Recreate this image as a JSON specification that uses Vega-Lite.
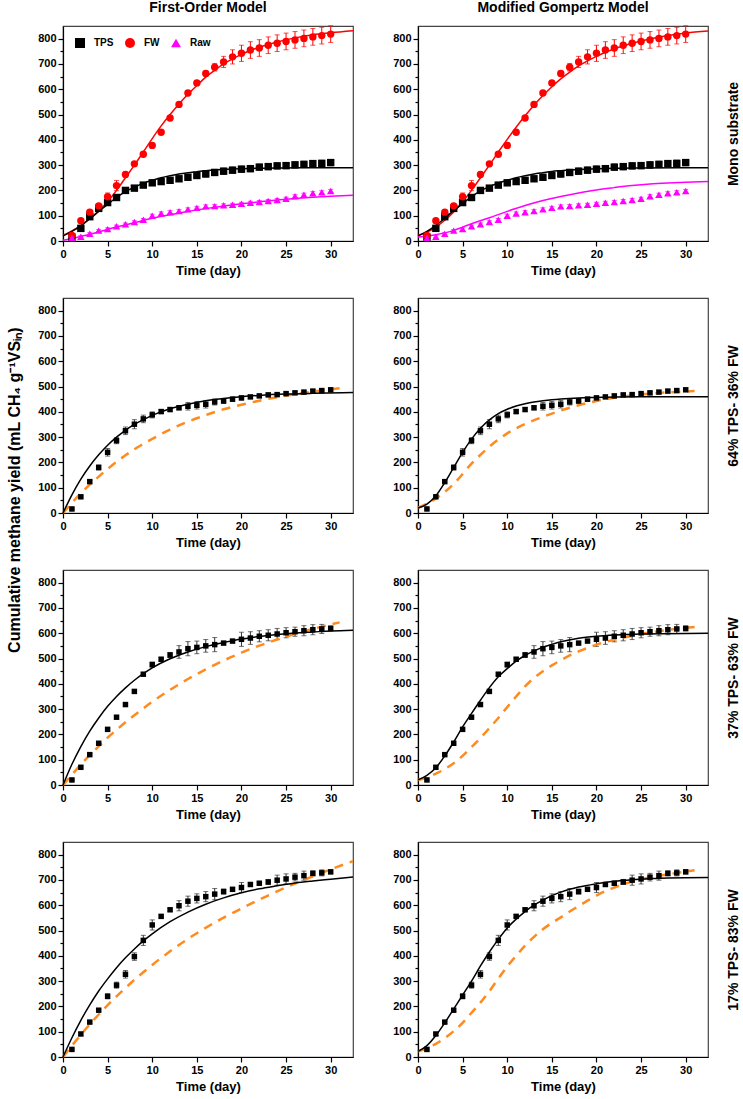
{
"$schema": "https://vega.github.io/schema/vega-lite/v6.json",
"background": "white",
"padding": {"left": 7, "top": 0, "right": 0, "bottom": 2},
"config": {
  "font": "Liberation Sans",
  "view": {"stroke": "#444", "strokeWidth": 1.2},
  "axis": {"labelFont": "Liberation Sans", "labelFontWeight": "bold", "labelFontSize": 11, "labelColor": "#000", "titleFont": "Liberation Sans", "titleFontWeight": "bold", "titleFontSize": 13, "titleColor": "#000", "domainColor": "#000", "tickColor": "#000", "grid": false, "domainWidth": 1.2, "tickWidth": 1.2}
},
"title": {"text": "Cumulative methane yield (mL CH₄ g⁻¹VSᵢₙ)", "orient": "left", "anchor": "middle", "font": "Liberation Sans", "fontSize": 16, "fontWeight": "bold", "color": "#000", "offset": 14, "dx": 57},
"datasets": {
"obs": [
{"mix":"Mono","series":"TPS","day":1,"y":15,"err":3},{"mix":"Mono","series":"TPS","day":2,"y":50,"err":5},{"mix":"Mono","series":"TPS","day":3,"y":96,"err":6},{"mix":"Mono","series":"TPS","day":4,"y":129,"err":8},{"mix":"Mono","series":"TPS","day":5,"y":152,"err":6},{"mix":"Mono","series":"TPS","day":6,"y":172,"err":6},{"mix":"Mono","series":"TPS","day":7,"y":200,"err":6},{"mix":"Mono","series":"TPS","day":8,"y":209,"err":6},{"mix":"Mono","series":"TPS","day":9,"y":221,"err":6},{"mix":"Mono","series":"TPS","day":10,"y":230,"err":6},{"mix":"Mono","series":"TPS","day":11,"y":235,"err":8},{"mix":"Mono","series":"TPS","day":12,"y":240,"err":8},{"mix":"Mono","series":"TPS","day":13,"y":246,"err":10},{"mix":"Mono","series":"TPS","day":14,"y":252,"err":10},{"mix":"Mono","series":"TPS","day":15,"y":259,"err":12},{"mix":"Mono","series":"TPS","day":16,"y":265,"err":12},{"mix":"Mono","series":"TPS","day":17,"y":271,"err":12},{"mix":"Mono","series":"TPS","day":18,"y":276,"err":12},{"mix":"Mono","series":"TPS","day":19,"y":280,"err":12},{"mix":"Mono","series":"TPS","day":20,"y":284,"err":12},{"mix":"Mono","series":"TPS","day":21,"y":286,"err":12},{"mix":"Mono","series":"TPS","day":22,"y":292,"err":12},{"mix":"Mono","series":"TPS","day":23,"y":294,"err":12},{"mix":"Mono","series":"TPS","day":24,"y":297,"err":12},{"mix":"Mono","series":"TPS","day":25,"y":298,"err":12},{"mix":"Mono","series":"TPS","day":26,"y":301,"err":12},{"mix":"Mono","series":"TPS","day":27,"y":303,"err":12},{"mix":"Mono","series":"TPS","day":28,"y":306,"err":12},{"mix":"Mono","series":"TPS","day":29,"y":307,"err":12},{"mix":"Mono","series":"TPS","day":30,"y":310,"err":12},
{"mix":"Mono","series":"FW","day":1,"y":22,"err":5},{"mix":"Mono","series":"FW","day":2,"y":80,"err":5},{"mix":"Mono","series":"FW","day":3,"y":114,"err":8},{"mix":"Mono","series":"FW","day":4,"y":139,"err":8},{"mix":"Mono","series":"FW","day":5,"y":175,"err":15},{"mix":"Mono","series":"FW","day":6,"y":219,"err":20},{"mix":"Mono","series":"FW","day":7,"y":263,"err":10},{"mix":"Mono","series":"FW","day":8,"y":305,"err":8},{"mix":"Mono","series":"FW","day":9,"y":343,"err":8},{"mix":"Mono","series":"FW","day":10,"y":378,"err":6},{"mix":"Mono","series":"FW","day":11,"y":430,"err":6},{"mix":"Mono","series":"FW","day":12,"y":486,"err":6},{"mix":"Mono","series":"FW","day":13,"y":540,"err":6},{"mix":"Mono","series":"FW","day":14,"y":585,"err":6},{"mix":"Mono","series":"FW","day":15,"y":625,"err":6},{"mix":"Mono","series":"FW","day":16,"y":662,"err":10},{"mix":"Mono","series":"FW","day":17,"y":687,"err":15},{"mix":"Mono","series":"FW","day":18,"y":708,"err":22},{"mix":"Mono","series":"FW","day":19,"y":728,"err":28},{"mix":"Mono","series":"FW","day":20,"y":742,"err":32},{"mix":"Mono","series":"FW","day":21,"y":755,"err":33},{"mix":"Mono","series":"FW","day":22,"y":763,"err":33},{"mix":"Mono","series":"FW","day":23,"y":774,"err":33},{"mix":"Mono","series":"FW","day":24,"y":782,"err":33},{"mix":"Mono","series":"FW","day":25,"y":789,"err":33},{"mix":"Mono","series":"FW","day":26,"y":795,"err":33},{"mix":"Mono","series":"FW","day":27,"y":801,"err":33},{"mix":"Mono","series":"FW","day":28,"y":807,"err":33},{"mix":"Mono","series":"FW","day":29,"y":812,"err":33},{"mix":"Mono","series":"FW","day":30,"y":818,"err":33},
{"mix":"Mono","series":"Raw","day":1,"y":13,"err":3},{"mix":"Mono","series":"Raw","day":2,"y":17,"err":4},{"mix":"Mono","series":"Raw","day":3,"y":29,"err":4},{"mix":"Mono","series":"Raw","day":4,"y":41,"err":4},{"mix":"Mono","series":"Raw","day":5,"y":47,"err":5},{"mix":"Mono","series":"Raw","day":6,"y":58,"err":5},{"mix":"Mono","series":"Raw","day":7,"y":66,"err":5},{"mix":"Mono","series":"Raw","day":8,"y":75,"err":5},{"mix":"Mono","series":"Raw","day":9,"y":84,"err":5},{"mix":"Mono","series":"Raw","day":10,"y":100,"err":6},{"mix":"Mono","series":"Raw","day":11,"y":109,"err":6},{"mix":"Mono","series":"Raw","day":12,"y":114,"err":6},{"mix":"Mono","series":"Raw","day":13,"y":118,"err":6},{"mix":"Mono","series":"Raw","day":14,"y":125,"err":6},{"mix":"Mono","series":"Raw","day":15,"y":131,"err":6},{"mix":"Mono","series":"Raw","day":16,"y":137,"err":6},{"mix":"Mono","series":"Raw","day":17,"y":138,"err":6},{"mix":"Mono","series":"Raw","day":18,"y":141,"err":6},{"mix":"Mono","series":"Raw","day":19,"y":143,"err":6},{"mix":"Mono","series":"Raw","day":20,"y":147,"err":6},{"mix":"Mono","series":"Raw","day":21,"y":151,"err":6},{"mix":"Mono","series":"Raw","day":22,"y":154,"err":6},{"mix":"Mono","series":"Raw","day":23,"y":158,"err":6},{"mix":"Mono","series":"Raw","day":24,"y":162,"err":6},{"mix":"Mono","series":"Raw","day":25,"y":167,"err":6},{"mix":"Mono","series":"Raw","day":26,"y":177,"err":6},{"mix":"Mono","series":"Raw","day":27,"y":183,"err":6},{"mix":"Mono","series":"Raw","day":28,"y":189,"err":6},{"mix":"Mono","series":"Raw","day":29,"y":193,"err":6},{"mix":"Mono","series":"Raw","day":30,"y":198,"err":6},
{"mix":"A","series":"TPS","day":1,"y":16,"err":3},{"mix":"A","series":"TPS","day":2,"y":64,"err":4},{"mix":"A","series":"TPS","day":3,"y":124,"err":5},{"mix":"A","series":"TPS","day":4,"y":180,"err":10},{"mix":"A","series":"TPS","day":5,"y":240,"err":15},{"mix":"A","series":"TPS","day":6,"y":286,"err":12},{"mix":"A","series":"TPS","day":7,"y":325,"err":15},{"mix":"A","series":"TPS","day":8,"y":351,"err":18},{"mix":"A","series":"TPS","day":9,"y":372,"err":15},{"mix":"A","series":"TPS","day":10,"y":388,"err":12},{"mix":"A","series":"TPS","day":11,"y":401,"err":8},{"mix":"A","series":"TPS","day":12,"y":409,"err":8},{"mix":"A","series":"TPS","day":13,"y":416,"err":8},{"mix":"A","series":"TPS","day":14,"y":422,"err":15},{"mix":"A","series":"TPS","day":15,"y":426,"err":15},{"mix":"A","series":"TPS","day":16,"y":430,"err":15},{"mix":"A","series":"TPS","day":17,"y":439,"err":12},{"mix":"A","series":"TPS","day":18,"y":443,"err":10},{"mix":"A","series":"TPS","day":19,"y":450,"err":8},{"mix":"A","series":"TPS","day":20,"y":455,"err":8},{"mix":"A","series":"TPS","day":21,"y":459,"err":6},{"mix":"A","series":"TPS","day":22,"y":463,"err":6},{"mix":"A","series":"TPS","day":23,"y":467,"err":6},{"mix":"A","series":"TPS","day":24,"y":468,"err":6},{"mix":"A","series":"TPS","day":25,"y":472,"err":6},{"mix":"A","series":"TPS","day":26,"y":475,"err":6},{"mix":"A","series":"TPS","day":27,"y":478,"err":6},{"mix":"A","series":"TPS","day":28,"y":482,"err":6},{"mix":"A","series":"TPS","day":29,"y":484,"err":6},{"mix":"A","series":"TPS","day":30,"y":487,"err":6},
{"mix":"B","series":"TPS","day":1,"y":20,"err":3},{"mix":"B","series":"TPS","day":2,"y":70,"err":4},{"mix":"B","series":"TPS","day":3,"y":120,"err":4},{"mix":"B","series":"TPS","day":4,"y":165,"err":4},{"mix":"B","series":"TPS","day":5,"y":220,"err":4},{"mix":"B","series":"TPS","day":6,"y":268,"err":4},{"mix":"B","series":"TPS","day":7,"y":318,"err":4},{"mix":"B","series":"TPS","day":8,"y":370,"err":4},{"mix":"B","series":"TPS","day":9,"y":438,"err":5},{"mix":"B","series":"TPS","day":10,"y":476,"err":10},{"mix":"B","series":"TPS","day":11,"y":497,"err":8},{"mix":"B","series":"TPS","day":12,"y":514,"err":10},{"mix":"B","series":"TPS","day":13,"y":526,"err":25},{"mix":"B","series":"TPS","day":14,"y":539,"err":28},{"mix":"B","series":"TPS","day":15,"y":544,"err":25},{"mix":"B","series":"TPS","day":16,"y":550,"err":25},{"mix":"B","series":"TPS","day":17,"y":555,"err":28},{"mix":"B","series":"TPS","day":18,"y":561,"err":6},{"mix":"B","series":"TPS","day":19,"y":569,"err":6},{"mix":"B","series":"TPS","day":20,"y":576,"err":28},{"mix":"B","series":"TPS","day":21,"y":581,"err":25},{"mix":"B","series":"TPS","day":22,"y":588,"err":22},{"mix":"B","series":"TPS","day":23,"y":592,"err":22},{"mix":"B","series":"TPS","day":24,"y":597,"err":22},{"mix":"B","series":"TPS","day":25,"y":602,"err":20},{"mix":"B","series":"TPS","day":26,"y":606,"err":18},{"mix":"B","series":"TPS","day":27,"y":610,"err":20},{"mix":"B","series":"TPS","day":28,"y":614,"err":20},{"mix":"B","series":"TPS","day":29,"y":617,"err":18},{"mix":"B","series":"TPS","day":30,"y":619,"err":10},
{"mix":"C","series":"TPS","day":1,"y":30,"err":3},{"mix":"C","series":"TPS","day":2,"y":91,"err":6},{"mix":"C","series":"TPS","day":3,"y":138,"err":5},{"mix":"C","series":"TPS","day":4,"y":185,"err":5},{"mix":"C","series":"TPS","day":5,"y":240,"err":10},{"mix":"C","series":"TPS","day":6,"y":284,"err":12},{"mix":"C","series":"TPS","day":7,"y":327,"err":15},{"mix":"C","series":"TPS","day":8,"y":397,"err":15},{"mix":"C","series":"TPS","day":9,"y":461,"err":20},{"mix":"C","series":"TPS","day":10,"y":522,"err":20},{"mix":"C","series":"TPS","day":11,"y":556,"err":6},{"mix":"C","series":"TPS","day":12,"y":582,"err":6},{"mix":"C","series":"TPS","day":13,"y":598,"err":20},{"mix":"C","series":"TPS","day":14,"y":616,"err":20},{"mix":"C","series":"TPS","day":15,"y":627,"err":18},{"mix":"C","series":"TPS","day":16,"y":634,"err":20},{"mix":"C","series":"TPS","day":17,"y":644,"err":22},{"mix":"C","series":"TPS","day":18,"y":654,"err":10},{"mix":"C","series":"TPS","day":19,"y":663,"err":6},{"mix":"C","series":"TPS","day":20,"y":670,"err":20},{"mix":"C","series":"TPS","day":21,"y":682,"err":6},{"mix":"C","series":"TPS","day":22,"y":687,"err":6},{"mix":"C","series":"TPS","day":23,"y":692,"err":10},{"mix":"C","series":"TPS","day":24,"y":699,"err":20},{"mix":"C","series":"TPS","day":25,"y":704,"err":20},{"mix":"C","series":"TPS","day":26,"y":711,"err":15},{"mix":"C","series":"TPS","day":27,"y":717,"err":18},{"mix":"C","series":"TPS","day":28,"y":726,"err":10},{"mix":"C","series":"TPS","day":29,"y":728,"err":12},{"mix":"C","series":"TPS","day":30,"y":732,"err":8}
],
"fit": [
{"panel":"M-FO","curve":"FW","day":0,"y":22},{"panel":"M-FO","curve":"FW","day":1,"y":40},{"panel":"M-FO","curve":"FW","day":2,"y":62},{"panel":"M-FO","curve":"FW","day":3,"y":88},{"panel":"M-FO","curve":"FW","day":4,"y":118},{"panel":"M-FO","curve":"FW","day":5,"y":155},{"panel":"M-FO","curve":"FW","day":6,"y":200},{"panel":"M-FO","curve":"FW","day":7,"y":250},{"panel":"M-FO","curve":"FW","day":8,"y":300},{"panel":"M-FO","curve":"FW","day":9,"y":352},{"panel":"M-FO","curve":"FW","day":10,"y":405},{"panel":"M-FO","curve":"FW","day":11,"y":455},{"panel":"M-FO","curve":"FW","day":12,"y":500},{"panel":"M-FO","curve":"FW","day":13,"y":542},{"panel":"M-FO","curve":"FW","day":14,"y":580},{"panel":"M-FO","curve":"FW","day":15,"y":615},{"panel":"M-FO","curve":"FW","day":16,"y":648},{"panel":"M-FO","curve":"FW","day":17,"y":675},{"panel":"M-FO","curve":"FW","day":18,"y":700},{"panel":"M-FO","curve":"FW","day":19,"y":720},{"panel":"M-FO","curve":"FW","day":20,"y":738},{"panel":"M-FO","curve":"FW","day":22,"y":766},{"panel":"M-FO","curve":"FW","day":24,"y":787},{"panel":"M-FO","curve":"FW","day":26,"y":803},{"panel":"M-FO","curve":"FW","day":28,"y":815},{"panel":"M-FO","curve":"FW","day":30,"y":823},{"panel":"M-FO","curve":"FW","day":32.5,"y":831},
{"panel":"M-FO","curve":"TPS","day":0,"y":20},{"panel":"M-FO","curve":"TPS","day":1,"y":38},{"panel":"M-FO","curve":"TPS","day":2,"y":60},{"panel":"M-FO","curve":"TPS","day":3,"y":88},{"panel":"M-FO","curve":"TPS","day":4,"y":117},{"panel":"M-FO","curve":"TPS","day":5,"y":145},{"panel":"M-FO","curve":"TPS","day":6,"y":172},{"panel":"M-FO","curve":"TPS","day":7,"y":195},{"panel":"M-FO","curve":"TPS","day":8,"y":213},{"panel":"M-FO","curve":"TPS","day":9,"y":228},{"panel":"M-FO","curve":"TPS","day":10,"y":240},{"panel":"M-FO","curve":"TPS","day":11,"y":250},{"panel":"M-FO","curve":"TPS","day":12,"y":258},{"panel":"M-FO","curve":"TPS","day":13,"y":265},{"panel":"M-FO","curve":"TPS","day":14,"y":270},{"panel":"M-FO","curve":"TPS","day":15,"y":274},{"panel":"M-FO","curve":"TPS","day":16,"y":278},{"panel":"M-FO","curve":"TPS","day":17,"y":281},{"panel":"M-FO","curve":"TPS","day":18,"y":283},{"panel":"M-FO","curve":"TPS","day":20,"y":286},{"panel":"M-FO","curve":"TPS","day":22,"y":288},{"panel":"M-FO","curve":"TPS","day":25,"y":289},{"panel":"M-FO","curve":"TPS","day":28,"y":290},{"panel":"M-FO","curve":"TPS","day":32.5,"y":290},
{"panel":"M-FO","curve":"Raw","day":0,"y":3},{"panel":"M-FO","curve":"Raw","day":2,"y":18},{"panel":"M-FO","curve":"Raw","day":4,"y":36},{"panel":"M-FO","curve":"Raw","day":6,"y":55},{"panel":"M-FO","curve":"Raw","day":8,"y":72},{"panel":"M-FO","curve":"Raw","day":10,"y":90},{"panel":"M-FO","curve":"Raw","day":12,"y":104},{"panel":"M-FO","curve":"Raw","day":14,"y":117},{"panel":"M-FO","curve":"Raw","day":16,"y":128},{"panel":"M-FO","curve":"Raw","day":18,"y":138},{"panel":"M-FO","curve":"Raw","day":20,"y":147},{"panel":"M-FO","curve":"Raw","day":22,"y":155},{"panel":"M-FO","curve":"Raw","day":24,"y":162},{"panel":"M-FO","curve":"Raw","day":26,"y":168},{"panel":"M-FO","curve":"Raw","day":28,"y":173},{"panel":"M-FO","curve":"Raw","day":30,"y":177},{"panel":"M-FO","curve":"Raw","day":32.5,"y":181},
{"panel":"M-GO","curve":"FW","day":0,"y":22},{"panel":"M-GO","curve":"FW","day":1,"y":35},{"panel":"M-GO","curve":"FW","day":2,"y":55},{"panel":"M-GO","curve":"FW","day":3,"y":82},{"panel":"M-GO","curve":"FW","day":4,"y":115},{"panel":"M-GO","curve":"FW","day":5,"y":155},{"panel":"M-GO","curve":"FW","day":6,"y":200},{"panel":"M-GO","curve":"FW","day":7,"y":250},{"panel":"M-GO","curve":"FW","day":8,"y":300},{"panel":"M-GO","curve":"FW","day":9,"y":352},{"panel":"M-GO","curve":"FW","day":10,"y":402},{"panel":"M-GO","curve":"FW","day":11,"y":450},{"panel":"M-GO","curve":"FW","day":12,"y":495},{"panel":"M-GO","curve":"FW","day":13,"y":537},{"panel":"M-GO","curve":"FW","day":14,"y":575},{"panel":"M-GO","curve":"FW","day":15,"y":610},{"panel":"M-GO","curve":"FW","day":16,"y":641},{"panel":"M-GO","curve":"FW","day":17,"y":668},{"panel":"M-GO","curve":"FW","day":18,"y":692},{"panel":"M-GO","curve":"FW","day":19,"y":712},{"panel":"M-GO","curve":"FW","day":20,"y":730},{"panel":"M-GO","curve":"FW","day":22,"y":760},{"panel":"M-GO","curve":"FW","day":24,"y":782},{"panel":"M-GO","curve":"FW","day":26,"y":799},{"panel":"M-GO","curve":"FW","day":28,"y":812},{"panel":"M-GO","curve":"FW","day":30,"y":822},{"panel":"M-GO","curve":"FW","day":32.5,"y":830},
{"panel":"M-GO","curve":"TPS","day":0,"y":20},{"panel":"M-GO","curve":"TPS","day":1,"y":38},{"panel":"M-GO","curve":"TPS","day":2,"y":62},{"panel":"M-GO","curve":"TPS","day":3,"y":90},{"panel":"M-GO","curve":"TPS","day":4,"y":120},{"panel":"M-GO","curve":"TPS","day":5,"y":148},{"panel":"M-GO","curve":"TPS","day":6,"y":175},{"panel":"M-GO","curve":"TPS","day":7,"y":198},{"panel":"M-GO","curve":"TPS","day":8,"y":215},{"panel":"M-GO","curve":"TPS","day":9,"y":229},{"panel":"M-GO","curve":"TPS","day":10,"y":240},{"panel":"M-GO","curve":"TPS","day":11,"y":250},{"panel":"M-GO","curve":"TPS","day":12,"y":258},{"panel":"M-GO","curve":"TPS","day":13,"y":265},{"panel":"M-GO","curve":"TPS","day":14,"y":270},{"panel":"M-GO","curve":"TPS","day":15,"y":275},{"panel":"M-GO","curve":"TPS","day":16,"y":278},{"panel":"M-GO","curve":"TPS","day":18,"y":283},{"panel":"M-GO","curve":"TPS","day":20,"y":286},{"panel":"M-GO","curve":"TPS","day":22,"y":288},{"panel":"M-GO","curve":"TPS","day":25,"y":289},{"panel":"M-GO","curve":"TPS","day":32.5,"y":290},
{"panel":"M-GO","curve":"Raw","day":0,"y":16},{"panel":"M-GO","curve":"Raw","day":2,"y":25},{"panel":"M-GO","curve":"Raw","day":4,"y":42},{"panel":"M-GO","curve":"Raw","day":5,"y":55},{"panel":"M-GO","curve":"Raw","day":6,"y":68},{"panel":"M-GO","curve":"Raw","day":8,"y":92},{"panel":"M-GO","curve":"Raw","day":10,"y":117},{"panel":"M-GO","curve":"Raw","day":12,"y":140},{"panel":"M-GO","curve":"Raw","day":14,"y":160},{"panel":"M-GO","curve":"Raw","day":16,"y":176},{"panel":"M-GO","curve":"Raw","day":18,"y":190},{"panel":"M-GO","curve":"Raw","day":20,"y":202},{"panel":"M-GO","curve":"Raw","day":22,"y":211},{"panel":"M-GO","curve":"Raw","day":24,"y":219},{"panel":"M-GO","curve":"Raw","day":26,"y":225},{"panel":"M-GO","curve":"Raw","day":28,"y":229},{"panel":"M-GO","curve":"Raw","day":30,"y":232},{"panel":"M-GO","curve":"Raw","day":32.5,"y":235},
{"panel":"A-FO","curve":"fit","day":0,"y":0},{"panel":"A-FO","curve":"fit","day":1,"y":72},{"panel":"A-FO","curve":"fit","day":2,"y":134},{"panel":"A-FO","curve":"fit","day":3,"y":186},{"panel":"A-FO","curve":"fit","day":4,"y":230},{"panel":"A-FO","curve":"fit","day":5,"y":268},{"panel":"A-FO","curve":"fit","day":6,"y":300},{"panel":"A-FO","curve":"fit","day":7,"y":327},{"panel":"A-FO","curve":"fit","day":8,"y":350},{"panel":"A-FO","curve":"fit","day":9,"y":369},{"panel":"A-FO","curve":"fit","day":10,"y":386},{"panel":"A-FO","curve":"fit","day":12,"y":412},{"panel":"A-FO","curve":"fit","day":14,"y":430},{"panel":"A-FO","curve":"fit","day":16,"y":444},{"panel":"A-FO","curve":"fit","day":18,"y":453},{"panel":"A-FO","curve":"fit","day":20,"y":460},{"panel":"A-FO","curve":"fit","day":22,"y":465},{"panel":"A-FO","curve":"fit","day":25,"y":470},{"panel":"A-FO","curve":"fit","day":28,"y":473},{"panel":"A-FO","curve":"fit","day":32.5,"y":476},
{"panel":"A-FO","curve":"pred","day":0,"y":0},{"panel":"A-FO","curve":"pred","day":1,"y":40},{"panel":"A-FO","curve":"pred","day":2,"y":78},{"panel":"A-FO","curve":"pred","day":3,"y":112},{"panel":"A-FO","curve":"pred","day":4,"y":144},{"panel":"A-FO","curve":"pred","day":5,"y":174},{"panel":"A-FO","curve":"pred","day":6,"y":202},{"panel":"A-FO","curve":"pred","day":7,"y":228},{"panel":"A-FO","curve":"pred","day":8,"y":252},{"panel":"A-FO","curve":"pred","day":9,"y":273},{"panel":"A-FO","curve":"pred","day":10,"y":293},{"panel":"A-FO","curve":"pred","day":12,"y":330},{"panel":"A-FO","curve":"pred","day":14,"y":361},{"panel":"A-FO","curve":"pred","day":16,"y":387},{"panel":"A-FO","curve":"pred","day":18,"y":410},{"panel":"A-FO","curve":"pred","day":20,"y":428},{"panel":"A-FO","curve":"pred","day":22,"y":444},{"panel":"A-FO","curve":"pred","day":24,"y":458},{"panel":"A-FO","curve":"pred","day":26,"y":470},{"panel":"A-FO","curve":"pred","day":28,"y":480},{"panel":"A-FO","curve":"pred","day":30,"y":489},{"panel":"A-FO","curve":"pred","day":31,"y":493},
{"panel":"A-GO","curve":"fit","day":0,"y":20},{"panel":"A-GO","curve":"fit","day":1,"y":35},{"panel":"A-GO","curve":"fit","day":2,"y":68},{"panel":"A-GO","curve":"fit","day":3,"y":120},{"panel":"A-GO","curve":"fit","day":4,"y":180},{"panel":"A-GO","curve":"fit","day":5,"y":240},{"panel":"A-GO","curve":"fit","day":6,"y":292},{"panel":"A-GO","curve":"fit","day":7,"y":335},{"panel":"A-GO","curve":"fit","day":8,"y":368},{"panel":"A-GO","curve":"fit","day":9,"y":393},{"panel":"A-GO","curve":"fit","day":10,"y":410},{"panel":"A-GO","curve":"fit","day":11,"y":423},{"panel":"A-GO","curve":"fit","day":12,"y":432},{"panel":"A-GO","curve":"fit","day":13,"y":439},{"panel":"A-GO","curve":"fit","day":14,"y":444},{"panel":"A-GO","curve":"fit","day":15,"y":448},{"panel":"A-GO","curve":"fit","day":16,"y":451},{"panel":"A-GO","curve":"fit","day":18,"y":455},{"panel":"A-GO","curve":"fit","day":20,"y":457},{"panel":"A-GO","curve":"fit","day":22,"y":459},{"panel":"A-GO","curve":"fit","day":25,"y":460},{"panel":"A-GO","curve":"fit","day":32.5,"y":460},
{"panel":"A-GO","curve":"pred","day":0,"y":20},{"panel":"A-GO","curve":"pred","day":2,"y":57},{"panel":"A-GO","curve":"pred","day":4,"y":115},{"panel":"A-GO","curve":"pred","day":6,"y":195},{"panel":"A-GO","curve":"pred","day":8,"y":262},{"panel":"A-GO","curve":"pred","day":10,"y":315},{"panel":"A-GO","curve":"pred","day":12,"y":352},{"panel":"A-GO","curve":"pred","day":14,"y":380},{"panel":"A-GO","curve":"pred","day":16,"y":405},{"panel":"A-GO","curve":"pred","day":18,"y":426},{"panel":"A-GO","curve":"pred","day":20,"y":443},{"panel":"A-GO","curve":"pred","day":22,"y":456},{"panel":"A-GO","curve":"pred","day":24,"y":465},{"panel":"A-GO","curve":"pred","day":26,"y":472},{"panel":"A-GO","curve":"pred","day":28,"y":477},{"panel":"A-GO","curve":"pred","day":31,"y":482},
{"panel":"B-FO","curve":"fit","day":0,"y":0},{"panel":"B-FO","curve":"fit","day":1,"y":82},{"panel":"B-FO","curve":"fit","day":2,"y":152},{"panel":"B-FO","curve":"fit","day":3,"y":213},{"panel":"B-FO","curve":"fit","day":4,"y":265},{"panel":"B-FO","curve":"fit","day":5,"y":311},{"panel":"B-FO","curve":"fit","day":6,"y":350},{"panel":"B-FO","curve":"fit","day":7,"y":384},{"panel":"B-FO","curve":"fit","day":8,"y":414},{"panel":"B-FO","curve":"fit","day":9,"y":440},{"panel":"B-FO","curve":"fit","day":10,"y":463},{"panel":"B-FO","curve":"fit","day":12,"y":499},{"panel":"B-FO","curve":"fit","day":14,"y":526},{"panel":"B-FO","curve":"fit","day":16,"y":547},{"panel":"B-FO","curve":"fit","day":18,"y":563},{"panel":"B-FO","curve":"fit","day":20,"y":577},{"panel":"B-FO","curve":"fit","day":22,"y":587},{"panel":"B-FO","curve":"fit","day":24,"y":595},{"panel":"B-FO","curve":"fit","day":26,"y":601},{"panel":"B-FO","curve":"fit","day":28,"y":605},{"panel":"B-FO","curve":"fit","day":30,"y":609},{"panel":"B-FO","curve":"fit","day":32.5,"y":612},
{"panel":"B-FO","curve":"pred","day":0,"y":0},{"panel":"B-FO","curve":"pred","day":1,"y":41},{"panel":"B-FO","curve":"pred","day":2,"y":81},{"panel":"B-FO","curve":"pred","day":3,"y":118},{"panel":"B-FO","curve":"pred","day":4,"y":153},{"panel":"B-FO","curve":"pred","day":5,"y":187},{"panel":"B-FO","curve":"pred","day":6,"y":218},{"panel":"B-FO","curve":"pred","day":7,"y":248},{"panel":"B-FO","curve":"pred","day":8,"y":276},{"panel":"B-FO","curve":"pred","day":9,"y":303},{"panel":"B-FO","curve":"pred","day":10,"y":329},{"panel":"B-FO","curve":"pred","day":12,"y":376},{"panel":"B-FO","curve":"pred","day":14,"y":419},{"panel":"B-FO","curve":"pred","day":16,"y":457},{"panel":"B-FO","curve":"pred","day":18,"y":492},{"panel":"B-FO","curve":"pred","day":20,"y":523},{"panel":"B-FO","curve":"pred","day":22,"y":551},{"panel":"B-FO","curve":"pred","day":24,"y":575},{"panel":"B-FO","curve":"pred","day":26,"y":598},{"panel":"B-FO","curve":"pred","day":28,"y":617},{"panel":"B-FO","curve":"pred","day":30,"y":635},{"panel":"B-FO","curve":"pred","day":31,"y":643},
{"panel":"B-GO","curve":"fit","day":0,"y":20},{"panel":"B-GO","curve":"fit","day":1,"y":38},{"panel":"B-GO","curve":"fit","day":2,"y":68},{"panel":"B-GO","curve":"fit","day":3,"y":115},{"panel":"B-GO","curve":"fit","day":4,"y":170},{"panel":"B-GO","curve":"fit","day":5,"y":230},{"panel":"B-GO","curve":"fit","day":6,"y":283},{"panel":"B-GO","curve":"fit","day":7,"y":335},{"panel":"B-GO","curve":"fit","day":8,"y":385},{"panel":"B-GO","curve":"fit","day":9,"y":428},{"panel":"B-GO","curve":"fit","day":10,"y":460},{"panel":"B-GO","curve":"fit","day":11,"y":490},{"panel":"B-GO","curve":"fit","day":12,"y":512},{"panel":"B-GO","curve":"fit","day":13,"y":530},{"panel":"B-GO","curve":"fit","day":14,"y":545},{"panel":"B-GO","curve":"fit","day":15,"y":556},{"panel":"B-GO","curve":"fit","day":16,"y":566},{"panel":"B-GO","curve":"fit","day":18,"y":580},{"panel":"B-GO","curve":"fit","day":20,"y":588},{"panel":"B-GO","curve":"fit","day":22,"y":593},{"panel":"B-GO","curve":"fit","day":25,"y":597},{"panel":"B-GO","curve":"fit","day":32.5,"y":600},
{"panel":"B-GO","curve":"pred","day":0,"y":20},{"panel":"B-GO","curve":"pred","day":1,"y":30},{"panel":"B-GO","curve":"pred","day":2,"y":45},{"panel":"B-GO","curve":"pred","day":3,"y":63},{"panel":"B-GO","curve":"pred","day":4,"y":86},{"panel":"B-GO","curve":"pred","day":5,"y":115},{"panel":"B-GO","curve":"pred","day":6,"y":150},{"panel":"B-GO","curve":"pred","day":7,"y":186},{"panel":"B-GO","curve":"pred","day":8,"y":225},{"panel":"B-GO","curve":"pred","day":9,"y":265},{"panel":"B-GO","curve":"pred","day":10,"y":308},{"panel":"B-GO","curve":"pred","day":11,"y":350},{"panel":"B-GO","curve":"pred","day":12,"y":390},{"panel":"B-GO","curve":"pred","day":13,"y":423},{"panel":"B-GO","curve":"pred","day":14,"y":450},{"panel":"B-GO","curve":"pred","day":15,"y":473},{"panel":"B-GO","curve":"pred","day":16,"y":493},{"panel":"B-GO","curve":"pred","day":17,"y":512},{"panel":"B-GO","curve":"pred","day":18,"y":528},{"panel":"B-GO","curve":"pred","day":19,"y":542},{"panel":"B-GO","curve":"pred","day":20,"y":555},{"panel":"B-GO","curve":"pred","day":22,"y":574},{"panel":"B-GO","curve":"pred","day":24,"y":590},{"panel":"B-GO","curve":"pred","day":26,"y":603},{"panel":"B-GO","curve":"pred","day":28,"y":613},{"panel":"B-GO","curve":"pred","day":31,"y":625},
{"panel":"C-FO","curve":"fit","day":0,"y":0},{"panel":"C-FO","curve":"fit","day":1,"y":76},{"panel":"C-FO","curve":"fit","day":2,"y":145},{"panel":"C-FO","curve":"fit","day":3,"y":206},{"panel":"C-FO","curve":"fit","day":4,"y":261},{"panel":"C-FO","curve":"fit","day":5,"y":309},{"panel":"C-FO","curve":"fit","day":6,"y":353},{"panel":"C-FO","curve":"fit","day":7,"y":392},{"panel":"C-FO","curve":"fit","day":8,"y":427},{"panel":"C-FO","curve":"fit","day":9,"y":459},{"panel":"C-FO","curve":"fit","day":10,"y":487},{"panel":"C-FO","curve":"fit","day":12,"y":535},{"panel":"C-FO","curve":"fit","day":14,"y":573},{"panel":"C-FO","curve":"fit","day":16,"y":604},{"panel":"C-FO","curve":"fit","day":18,"y":629},{"panel":"C-FO","curve":"fit","day":20,"y":649},{"panel":"C-FO","curve":"fit","day":22,"y":665},{"panel":"C-FO","curve":"fit","day":24,"y":677},{"panel":"C-FO","curve":"fit","day":26,"y":688},{"panel":"C-FO","curve":"fit","day":28,"y":696},{"panel":"C-FO","curve":"fit","day":30,"y":703},{"panel":"C-FO","curve":"fit","day":32.5,"y":712},
{"panel":"C-FO","curve":"pred","day":0,"y":0},{"panel":"C-FO","curve":"pred","day":1,"y":45},{"panel":"C-FO","curve":"pred","day":2,"y":88},{"panel":"C-FO","curve":"pred","day":3,"y":129},{"panel":"C-FO","curve":"pred","day":4,"y":168},{"panel":"C-FO","curve":"pred","day":5,"y":205},{"panel":"C-FO","curve":"pred","day":6,"y":240},{"panel":"C-FO","curve":"pred","day":7,"y":273},{"panel":"C-FO","curve":"pred","day":8,"y":305},{"panel":"C-FO","curve":"pred","day":9,"y":335},{"panel":"C-FO","curve":"pred","day":10,"y":364},{"panel":"C-FO","curve":"pred","day":12,"y":418},{"panel":"C-FO","curve":"pred","day":14,"y":467},{"panel":"C-FO","curve":"pred","day":16,"y":511},{"panel":"C-FO","curve":"pred","day":18,"y":551},{"panel":"C-FO","curve":"pred","day":20,"y":587},{"panel":"C-FO","curve":"pred","day":22,"y":622},{"panel":"C-FO","curve":"pred","day":24,"y":655},{"panel":"C-FO","curve":"pred","day":26,"y":686},{"panel":"C-FO","curve":"pred","day":28,"y":714},{"panel":"C-FO","curve":"pred","day":30,"y":742},{"panel":"C-FO","curve":"pred","day":32.5,"y":774},
{"panel":"C-GO","curve":"fit","day":0,"y":22},{"panel":"C-GO","curve":"fit","day":1,"y":45},{"panel":"C-GO","curve":"fit","day":2,"y":85},{"panel":"C-GO","curve":"fit","day":3,"y":135},{"panel":"C-GO","curve":"fit","day":4,"y":190},{"panel":"C-GO","curve":"fit","day":5,"y":245},{"panel":"C-GO","curve":"fit","day":6,"y":300},{"panel":"C-GO","curve":"fit","day":7,"y":360},{"panel":"C-GO","curve":"fit","day":8,"y":415},{"panel":"C-GO","curve":"fit","day":9,"y":465},{"panel":"C-GO","curve":"fit","day":10,"y":510},{"panel":"C-GO","curve":"fit","day":11,"y":545},{"panel":"C-GO","curve":"fit","day":12,"y":575},{"panel":"C-GO","curve":"fit","day":13,"y":600},{"panel":"C-GO","curve":"fit","day":14,"y":620},{"panel":"C-GO","curve":"fit","day":15,"y":638},{"panel":"C-GO","curve":"fit","day":16,"y":652},{"panel":"C-GO","curve":"fit","day":17,"y":663},{"panel":"C-GO","curve":"fit","day":18,"y":672},{"panel":"C-GO","curve":"fit","day":20,"y":685},{"panel":"C-GO","curve":"fit","day":22,"y":695},{"panel":"C-GO","curve":"fit","day":24,"y":701},{"panel":"C-GO","curve":"fit","day":26,"y":705},{"panel":"C-GO","curve":"fit","day":28,"y":708},{"panel":"C-GO","curve":"fit","day":32.5,"y":710},
{"panel":"C-GO","curve":"pred","day":0,"y":22},{"panel":"C-GO","curve":"pred","day":1,"y":35},{"panel":"C-GO","curve":"pred","day":2,"y":52},{"panel":"C-GO","curve":"pred","day":3,"y":75},{"panel":"C-GO","curve":"pred","day":4,"y":102},{"panel":"C-GO","curve":"pred","day":5,"y":135},{"panel":"C-GO","curve":"pred","day":6,"y":175},{"panel":"C-GO","curve":"pred","day":7,"y":215},{"panel":"C-GO","curve":"pred","day":8,"y":260},{"panel":"C-GO","curve":"pred","day":9,"y":310},{"panel":"C-GO","curve":"pred","day":10,"y":358},{"panel":"C-GO","curve":"pred","day":11,"y":400},{"panel":"C-GO","curve":"pred","day":12,"y":440},{"panel":"C-GO","curve":"pred","day":13,"y":475},{"panel":"C-GO","curve":"pred","day":14,"y":505},{"panel":"C-GO","curve":"pred","day":15,"y":530},{"panel":"C-GO","curve":"pred","day":16,"y":552},{"panel":"C-GO","curve":"pred","day":17,"y":575},{"panel":"C-GO","curve":"pred","day":18,"y":597},{"panel":"C-GO","curve":"pred","day":19,"y":618},{"panel":"C-GO","curve":"pred","day":20,"y":638},{"panel":"C-GO","curve":"pred","day":21,"y":656},{"panel":"C-GO","curve":"pred","day":22,"y":670},{"panel":"C-GO","curve":"pred","day":23,"y":683},{"panel":"C-GO","curve":"pred","day":24,"y":694},{"panel":"C-GO","curve":"pred","day":26,"y":710},{"panel":"C-GO","curve":"pred","day":28,"y":722},{"panel":"C-GO","curve":"pred","day":30,"y":733},{"panel":"C-GO","curve":"pred","day":31,"y":738}
]
},
"columns": 2,
"bounds": "flush",
"spacing": {"row": 57, "column": 65},
"resolve": {"scale": {"color": "independent", "shape": "independent"}},
"concat": [
{
 "width": 290, "height": 215,
 "title": {"text": "First-Order Model", "font": "Liberation Sans", "fontSize": 14, "fontWeight": "bold", "color": "#000", "offset": 10},
 "resolve": {"axis": {"x": "independent", "y": "independent"}},
 "layer": [
  {"data": {"name": "obs"}, "transform": [{"filter": "datum.mix === 'Mono' && datum.series === 'FW'"}],
   "mark": {"type": "errorbar", "ticks": {"size": 5}, "thickness": 1, "color": "#FF0000"},
   "encoding": {"x": {"field": "day", "type": "quantitative", "scale": {"domain": [0, 32.5], "nice": false, "zero": false}, "axis": null},
    "y": {"field": "y", "type": "quantitative", "scale": {"domain": [0, 850], "nice": false, "zero": false}, "axis": null},
    "yError": {"field": "err"}}},
  {"data": {"name": "obs"}, "transform": [{"filter": "datum.mix === 'Mono' && datum.series === 'TPS'"}],
   "mark": {"type": "errorbar", "ticks": {"size": 5}, "thickness": 1, "color": "#333"},
   "encoding": {"x": {"field": "day", "type": "quantitative", "scale": {"domain": [0, 32.5], "nice": false, "zero": false}, "axis": null},
    "y": {"field": "y", "type": "quantitative", "scale": {"domain": [0, 850], "nice": false, "zero": false}, "axis": null},
    "yError": {"field": "err"}}},
  {"data": {"name": "obs"}, "transform": [{"filter": "datum.mix === 'Mono' && datum.series === 'Raw'"}],
   "mark": {"type": "errorbar", "ticks": {"size": 5}, "thickness": 1, "color": "#FF00FF"},
   "encoding": {"x": {"field": "day", "type": "quantitative", "scale": {"domain": [0, 32.5], "nice": false, "zero": false}, "axis": null},
    "y": {"field": "y", "type": "quantitative", "scale": {"domain": [0, 850], "nice": false, "zero": false}, "axis": null},
    "yError": {"field": "err"}}},
  {"data": {"name": "fit"}, "transform": [{"filter": "datum.panel === 'M-FO' && datum.curve === 'FW'"}],
   "mark": {"type": "line", "interpolate": "monotone", "strokeWidth": 1.5, "color": "#FF0000"},
   "encoding": {"x": {"field": "day", "type": "quantitative", "scale": {"domain": [0, 32.5], "nice": false, "zero": false}, "axis": null},
    "y": {"field": "y", "type": "quantitative", "scale": {"domain": [0, 850], "nice": false, "zero": false}, "axis": null}}},
  {"data": {"name": "fit"}, "transform": [{"filter": "datum.panel === 'M-FO' && datum.curve === 'TPS'"}],
   "mark": {"type": "line", "interpolate": "monotone", "strokeWidth": 1.5, "color": "#000000"},
   "encoding": {"x": {"field": "day", "type": "quantitative", "scale": {"domain": [0, 32.5], "nice": false, "zero": false}, "axis": null},
    "y": {"field": "y", "type": "quantitative", "scale": {"domain": [0, 850], "nice": false, "zero": false}, "axis": null}}},
  {"data": {"name": "fit"}, "transform": [{"filter": "datum.panel === 'M-FO' && datum.curve === 'Raw'"}],
   "mark": {"type": "line", "interpolate": "monotone", "strokeWidth": 1.5, "color": "#FF00FF"},
   "encoding": {"x": {"field": "day", "type": "quantitative", "scale": {"domain": [0, 32.5], "nice": false, "zero": false}, "axis": null},
    "y": {"field": "y", "type": "quantitative", "scale": {"domain": [0, 850], "nice": false, "zero": false}, "axis": null}}},
  {"data": {"name": "obs"}, "transform": [{"filter": "datum.mix === 'Mono'"}],
   "mark": {"type": "point", "filled": true, "size": 55, "opacity": 1},
   "encoding": {"x": {"field": "day", "type": "quantitative", "scale": {"domain": [0, 32.5], "nice": false, "zero": false}, "axis": {"title": "Time (day)", "values": [0, 5, 10, 15, 20, 25, 30], "labelFlush": false, "tickSize": 5, "labelPadding": 2, "titlePadding": 5}},
    "y": {"field": "y", "type": "quantitative", "scale": {"domain": [0, 850], "nice": false, "zero": false}, "axis": {"title": null, "values": [0, 50, 100, 150, 200, 250, 300, 350, 400, 450, 500, 550, 600, 650, 700, 750, 800], "labelExpr": "datum.value % 100 === 0 ? datum.label : ''", "tickSize": {"condition": {"test": "datum.value % 100 === 0", "value": 5}, "value": 3}, "labelPadding": 2}},
    "color": {"field": "series", "type": "nominal", "scale": {"domain": ["TPS", "FW", "Raw"], "range": ["#000000", "#FF0000", "#FF00FF"]}, "legend": {"title": null, "orient": "top-left", "direction": "horizontal", "offset": 8, "padding": 3, "labelFont": "Liberation Sans", "labelFontSize": 10, "labelFontWeight": "bold", "labelColor": "#000", "symbolSize": 100, "columnPadding": 10, "labelOffset": 8}},
    "shape": {"field": "series", "type": "nominal", "scale": {"domain": ["TPS", "FW", "Raw"], "range": ["square", "circle", "triangle-up"]}, "legend": {"title": null, "orient": "top-left", "direction": "horizontal", "offset": 8, "padding": 3, "labelFont": "Liberation Sans", "labelFontSize": 10, "labelFontWeight": "bold", "labelColor": "#000", "symbolSize": 100, "columnPadding": 10, "labelOffset": 8}}}}
 ]
},
{
 "width": 290, "height": 215,
 "title": {"text": "Modified Gompertz Model", "font": "Liberation Sans", "fontSize": 14, "fontWeight": "bold", "color": "#000", "offset": 10},
 "resolve": {"axis": {"x": "independent", "y": "independent"}},
 "layer": [
  {"data": {"name": "obs"}, "transform": [{"filter": "datum.mix === 'Mono' && datum.series === 'FW'"}],
   "mark": {"type": "errorbar", "ticks": {"size": 5}, "thickness": 1, "color": "#FF0000"},
   "encoding": {"x": {"field": "day", "type": "quantitative", "scale": {"domain": [0, 32.5], "nice": false, "zero": false}, "axis": null},
    "y": {"field": "y", "type": "quantitative", "scale": {"domain": [0, 850], "nice": false, "zero": false}, "axis": null},
    "yError": {"field": "err"}}},
  {"data": {"name": "obs"}, "transform": [{"filter": "datum.mix === 'Mono' && datum.series === 'TPS'"}],
   "mark": {"type": "errorbar", "ticks": {"size": 5}, "thickness": 1, "color": "#000"},
   "encoding": {"x": {"field": "day", "type": "quantitative", "scale": {"domain": [0, 32.5], "nice": false, "zero": false}, "axis": null},
    "y": {"field": "y", "type": "quantitative", "scale": {"domain": [0, 850], "nice": false, "zero": false}, "axis": null},
    "yError": {"field": "err"}}},
  {"data": {"name": "obs"}, "transform": [{"filter": "datum.mix === 'Mono' && datum.series === 'Raw'"}],
   "mark": {"type": "errorbar", "ticks": {"size": 5}, "thickness": 1, "color": "#FF00FF"},
   "encoding": {"x": {"field": "day", "type": "quantitative", "scale": {"domain": [0, 32.5], "nice": false, "zero": false}, "axis": null},
    "y": {"field": "y", "type": "quantitative", "scale": {"domain": [0, 850], "nice": false, "zero": false}, "axis": null},
    "yError": {"field": "err"}}},
  {"data": {"name": "fit"}, "transform": [{"filter": "datum.panel === 'M-GO' && datum.curve === 'FW'"}],
   "mark": {"type": "line", "interpolate": "monotone", "strokeWidth": 1.5, "color": "#FF0000"},
   "encoding": {"x": {"field": "day", "type": "quantitative", "scale": {"domain": [0, 32.5], "nice": false, "zero": false}, "axis": null},
    "y": {"field": "y", "type": "quantitative", "scale": {"domain": [0, 850], "nice": false, "zero": false}, "axis": null}}},
  {"data": {"name": "fit"}, "transform": [{"filter": "datum.panel === 'M-GO' && datum.curve === 'TPS'"}],
   "mark": {"type": "line", "interpolate": "monotone", "strokeWidth": 1.5, "color": "#000000"},
   "encoding": {"x": {"field": "day", "type": "quantitative", "scale": {"domain": [0, 32.5], "nice": false, "zero": false}, "axis": null},
    "y": {"field": "y", "type": "quantitative", "scale": {"domain": [0, 850], "nice": false, "zero": false}, "axis": {"orient": "right", "title": "Mono substrate", "labels": false, "ticks": false, "domain": false, "grid": false, "titleAngle": 270, "titleBaseline": "top", "titlePadding": 18, "titleFontSize": 14}}}},
  {"data": {"name": "fit"}, "transform": [{"filter": "datum.panel === 'M-GO' && datum.curve === 'Raw'"}],
   "mark": {"type": "line", "interpolate": "monotone", "strokeWidth": 1.5, "color": "#FF00FF"},
   "encoding": {"x": {"field": "day", "type": "quantitative", "scale": {"domain": [0, 32.5], "nice": false, "zero": false}, "axis": null},
    "y": {"field": "y", "type": "quantitative", "scale": {"domain": [0, 850], "nice": false, "zero": false}, "axis": null}}},
  {"data": {"name": "obs"}, "transform": [{"filter": "datum.mix === 'Mono'"}],
   "mark": {"type": "point", "filled": true, "size": 55, "opacity": 1},
   "encoding": {"x": {"field": "day", "type": "quantitative", "scale": {"domain": [0, 32.5], "nice": false, "zero": false}, "axis": {"title": "Time (day)", "values": [0, 5, 10, 15, 20, 25, 30], "labelFlush": false, "tickSize": 5, "labelPadding": 2, "titlePadding": 5}},
    "y": {"field": "y", "type": "quantitative", "scale": {"domain": [0, 850], "nice": false, "zero": false}, "axis": {"orient": "left", "title": null, "values": [0, 50, 100, 150, 200, 250, 300, 350, 400, 450, 500, 550, 600, 650, 700, 750, 800], "labelExpr": "datum.value % 100 === 0 ? datum.label : ''", "tickSize": {"condition": {"test": "datum.value % 100 === 0", "value": 5}, "value": 3}, "labelPadding": 2}},
    "color": {"field": "series", "type": "nominal", "scale": {"domain": ["TPS", "FW", "Raw"], "range": ["#000000", "#FF0000", "#FF00FF"]}, "legend": null},
    "shape": {"field": "series", "type": "nominal", "scale": {"domain": ["TPS", "FW", "Raw"], "range": ["square", "circle", "triangle-up"]}, "legend": null}}}
 ]
},
{
 "width": 290, "height": 215,
 "resolve": {"axis": {"x": "independent", "y": "independent"}},
 "layer": [
  {"data": {"name": "obs"}, "transform": [{"filter": "datum.mix === 'A'"}],
   "mark": {"type": "errorbar", "ticks": {"size": 5}, "thickness": 1, "color": "#333"},
   "encoding": {"x": {"field": "day", "type": "quantitative", "scale": {"domain": [0, 32.5], "nice": false, "zero": false}, "axis": null},
    "y": {"field": "y", "type": "quantitative", "scale": {"domain": [0, 850], "nice": false, "zero": false}, "axis": null},
    "yError": {"field": "err"}}},
  {"data": {"name": "fit"}, "transform": [{"filter": "datum.panel === 'A-FO' && datum.curve === 'pred'"}],
   "mark": {"type": "line", "interpolate": "monotone", "strokeWidth": 2.5, "color": "#FF8A1E", "strokeDash": [9, 7]},
   "encoding": {"x": {"field": "day", "type": "quantitative", "scale": {"domain": [0, 32.5], "nice": false, "zero": false}, "axis": null},
    "y": {"field": "y", "type": "quantitative", "scale": {"domain": [0, 850], "nice": false, "zero": false}, "axis": null}}},
  {"data": {"name": "fit"}, "transform": [{"filter": "datum.panel === 'A-FO' && datum.curve === 'fit'"}],
   "mark": {"type": "line", "interpolate": "monotone", "strokeWidth": 1.5, "color": "#000"},
   "encoding": {"x": {"field": "day", "type": "quantitative", "scale": {"domain": [0, 32.5], "nice": false, "zero": false}, "axis": null},
    "y": {"field": "y", "type": "quantitative", "scale": {"domain": [0, 850], "nice": false, "zero": false}, "axis": null}}},
  {"data": {"name": "obs"}, "transform": [{"filter": "datum.mix === 'A'"}],
   "mark": {"type": "square", "size": 30, "color": "#000", "opacity": 1},
   "encoding": {"x": {"field": "day", "type": "quantitative", "scale": {"domain": [0, 32.5], "nice": false, "zero": false}, "axis": {"title": "Time (day)", "values": [0, 5, 10, 15, 20, 25, 30], "labelFlush": false, "tickSize": 5, "labelPadding": 2, "titlePadding": 5}},
    "y": {"field": "y", "type": "quantitative", "scale": {"domain": [0, 850], "nice": false, "zero": false}, "axis": {"title": null, "values": [0, 50, 100, 150, 200, 250, 300, 350, 400, 450, 500, 550, 600, 650, 700, 750, 800], "labelExpr": "datum.value % 100 === 0 ? datum.label : ''", "tickSize": {"condition": {"test": "datum.value % 100 === 0", "value": 5}, "value": 3}, "labelPadding": 2}}}}
 ]
},
{
 "width": 290, "height": 215,
 "resolve": {"axis": {"x": "independent", "y": "independent"}},
 "layer": [
  {"data": {"name": "obs"}, "transform": [{"filter": "datum.mix === 'A'"}],
   "mark": {"type": "errorbar", "ticks": {"size": 5}, "thickness": 1, "color": "#333"},
   "encoding": {"x": {"field": "day", "type": "quantitative", "scale": {"domain": [0, 32.5], "nice": false, "zero": false}, "axis": null},
    "y": {"field": "y", "type": "quantitative", "scale": {"domain": [0, 850], "nice": false, "zero": false}, "axis": null},
    "yError": {"field": "err"}}},
  {"data": {"name": "fit"}, "transform": [{"filter": "datum.panel === 'A-GO' && datum.curve === 'pred'"}],
   "mark": {"type": "line", "interpolate": "monotone", "strokeWidth": 2.5, "color": "#FF8A1E", "strokeDash": [9, 7]},
   "encoding": {"x": {"field": "day", "type": "quantitative", "scale": {"domain": [0, 32.5], "nice": false, "zero": false}, "axis": null},
    "y": {"field": "y", "type": "quantitative", "scale": {"domain": [0, 850], "nice": false, "zero": false}, "axis": null}}},
  {"data": {"name": "fit"}, "transform": [{"filter": "datum.panel === 'A-GO' && datum.curve === 'fit'"}],
   "mark": {"type": "line", "interpolate": "monotone", "strokeWidth": 1.5, "color": "#000"},
   "encoding": {"x": {"field": "day", "type": "quantitative", "scale": {"domain": [0, 32.5], "nice": false, "zero": false}, "axis": null},
    "y": {"field": "y", "type": "quantitative", "scale": {"domain": [0, 850], "nice": false, "zero": false}, "axis": {"orient": "right", "title": "64% TPS- 36% FW", "labels": false, "ticks": false, "domain": false, "grid": false, "titleAngle": 270, "titleBaseline": "top", "titlePadding": 18, "titleFontSize": 14}}}},
  {"data": {"name": "obs"}, "transform": [{"filter": "datum.mix === 'A'"}],
   "mark": {"type": "square", "size": 30, "color": "#000", "opacity": 1},
   "encoding": {"x": {"field": "day", "type": "quantitative", "scale": {"domain": [0, 32.5], "nice": false, "zero": false}, "axis": {"title": "Time (day)", "values": [0, 5, 10, 15, 20, 25, 30], "labelFlush": false, "tickSize": 5, "labelPadding": 2, "titlePadding": 5}},
    "y": {"field": "y", "type": "quantitative", "scale": {"domain": [0, 850], "nice": false, "zero": false}, "axis": {"orient": "left", "title": null, "values": [0, 50, 100, 150, 200, 250, 300, 350, 400, 450, 500, 550, 600, 650, 700, 750, 800], "labelExpr": "datum.value % 100 === 0 ? datum.label : ''", "tickSize": {"condition": {"test": "datum.value % 100 === 0", "value": 5}, "value": 3}, "labelPadding": 2}}}}
 ]
},
{
 "width": 290, "height": 215,
 "resolve": {"axis": {"x": "independent", "y": "independent"}},
 "layer": [
  {"data": {"name": "obs"}, "transform": [{"filter": "datum.mix === 'B'"}],
   "mark": {"type": "errorbar", "ticks": {"size": 5}, "thickness": 1, "color": "#333"},
   "encoding": {"x": {"field": "day", "type": "quantitative", "scale": {"domain": [0, 32.5], "nice": false, "zero": false}, "axis": null},
    "y": {"field": "y", "type": "quantitative", "scale": {"domain": [0, 850], "nice": false, "zero": false}, "axis": null},
    "yError": {"field": "err"}}},
  {"data": {"name": "fit"}, "transform": [{"filter": "datum.panel === 'B-FO' && datum.curve === 'pred'"}],
   "mark": {"type": "line", "interpolate": "monotone", "strokeWidth": 2.5, "color": "#FF8A1E", "strokeDash": [9, 7]},
   "encoding": {"x": {"field": "day", "type": "quantitative", "scale": {"domain": [0, 32.5], "nice": false, "zero": false}, "axis": null},
    "y": {"field": "y", "type": "quantitative", "scale": {"domain": [0, 850], "nice": false, "zero": false}, "axis": null}}},
  {"data": {"name": "fit"}, "transform": [{"filter": "datum.panel === 'B-FO' && datum.curve === 'fit'"}],
   "mark": {"type": "line", "interpolate": "monotone", "strokeWidth": 1.5, "color": "#000"},
   "encoding": {"x": {"field": "day", "type": "quantitative", "scale": {"domain": [0, 32.5], "nice": false, "zero": false}, "axis": null},
    "y": {"field": "y", "type": "quantitative", "scale": {"domain": [0, 850], "nice": false, "zero": false}, "axis": null}}},
  {"data": {"name": "obs"}, "transform": [{"filter": "datum.mix === 'B'"}],
   "mark": {"type": "square", "size": 30, "color": "#000", "opacity": 1},
   "encoding": {"x": {"field": "day", "type": "quantitative", "scale": {"domain": [0, 32.5], "nice": false, "zero": false}, "axis": {"title": "Time (day)", "values": [0, 5, 10, 15, 20, 25, 30], "labelFlush": false, "tickSize": 5, "labelPadding": 2, "titlePadding": 5}},
    "y": {"field": "y", "type": "quantitative", "scale": {"domain": [0, 850], "nice": false, "zero": false}, "axis": {"title": null, "values": [0, 50, 100, 150, 200, 250, 300, 350, 400, 450, 500, 550, 600, 650, 700, 750, 800], "labelExpr": "datum.value % 100 === 0 ? datum.label : ''", "tickSize": {"condition": {"test": "datum.value % 100 === 0", "value": 5}, "value": 3}, "labelPadding": 2}}}}
 ]
},
{
 "width": 290, "height": 215,
 "resolve": {"axis": {"x": "independent", "y": "independent"}},
 "layer": [
  {"data": {"name": "obs"}, "transform": [{"filter": "datum.mix === 'B'"}],
   "mark": {"type": "errorbar", "ticks": {"size": 5}, "thickness": 1, "color": "#333"},
   "encoding": {"x": {"field": "day", "type": "quantitative", "scale": {"domain": [0, 32.5], "nice": false, "zero": false}, "axis": null},
    "y": {"field": "y", "type": "quantitative", "scale": {"domain": [0, 850], "nice": false, "zero": false}, "axis": null},
    "yError": {"field": "err"}}},
  {"data": {"name": "fit"}, "transform": [{"filter": "datum.panel === 'B-GO' && datum.curve === 'pred'"}],
   "mark": {"type": "line", "interpolate": "monotone", "strokeWidth": 2.5, "color": "#FF8A1E", "strokeDash": [9, 7]},
   "encoding": {"x": {"field": "day", "type": "quantitative", "scale": {"domain": [0, 32.5], "nice": false, "zero": false}, "axis": null},
    "y": {"field": "y", "type": "quantitative", "scale": {"domain": [0, 850], "nice": false, "zero": false}, "axis": null}}},
  {"data": {"name": "fit"}, "transform": [{"filter": "datum.panel === 'B-GO' && datum.curve === 'fit'"}],
   "mark": {"type": "line", "interpolate": "monotone", "strokeWidth": 1.5, "color": "#000"},
   "encoding": {"x": {"field": "day", "type": "quantitative", "scale": {"domain": [0, 32.5], "nice": false, "zero": false}, "axis": null},
    "y": {"field": "y", "type": "quantitative", "scale": {"domain": [0, 850], "nice": false, "zero": false}, "axis": {"orient": "right", "title": "37% TPS- 63% FW", "labels": false, "ticks": false, "domain": false, "grid": false, "titleAngle": 270, "titleBaseline": "top", "titlePadding": 18, "titleFontSize": 14}}}},
  {"data": {"name": "obs"}, "transform": [{"filter": "datum.mix === 'B'"}],
   "mark": {"type": "square", "size": 30, "color": "#000", "opacity": 1},
   "encoding": {"x": {"field": "day", "type": "quantitative", "scale": {"domain": [0, 32.5], "nice": false, "zero": false}, "axis": {"title": "Time (day)", "values": [0, 5, 10, 15, 20, 25, 30], "labelFlush": false, "tickSize": 5, "labelPadding": 2, "titlePadding": 5}},
    "y": {"field": "y", "type": "quantitative", "scale": {"domain": [0, 850], "nice": false, "zero": false}, "axis": {"orient": "left", "title": null, "values": [0, 50, 100, 150, 200, 250, 300, 350, 400, 450, 500, 550, 600, 650, 700, 750, 800], "labelExpr": "datum.value % 100 === 0 ? datum.label : ''", "tickSize": {"condition": {"test": "datum.value % 100 === 0", "value": 5}, "value": 3}, "labelPadding": 2}}}}
 ]
},
{
 "width": 290, "height": 215,
 "resolve": {"axis": {"x": "independent", "y": "independent"}},
 "layer": [
  {"data": {"name": "obs"}, "transform": [{"filter": "datum.mix === 'C'"}],
   "mark": {"type": "errorbar", "ticks": {"size": 5}, "thickness": 1, "color": "#333"},
   "encoding": {"x": {"field": "day", "type": "quantitative", "scale": {"domain": [0, 32.5], "nice": false, "zero": false}, "axis": null},
    "y": {"field": "y", "type": "quantitative", "scale": {"domain": [0, 850], "nice": false, "zero": false}, "axis": null},
    "yError": {"field": "err"}}},
  {"data": {"name": "fit"}, "transform": [{"filter": "datum.panel === 'C-FO' && datum.curve === 'pred'"}],
   "mark": {"type": "line", "interpolate": "monotone", "strokeWidth": 2.5, "color": "#FF8A1E", "strokeDash": [9, 7]},
   "encoding": {"x": {"field": "day", "type": "quantitative", "scale": {"domain": [0, 32.5], "nice": false, "zero": false}, "axis": null},
    "y": {"field": "y", "type": "quantitative", "scale": {"domain": [0, 850], "nice": false, "zero": false}, "axis": null}}},
  {"data": {"name": "fit"}, "transform": [{"filter": "datum.panel === 'C-FO' && datum.curve === 'fit'"}],
   "mark": {"type": "line", "interpolate": "monotone", "strokeWidth": 1.5, "color": "#000"},
   "encoding": {"x": {"field": "day", "type": "quantitative", "scale": {"domain": [0, 32.5], "nice": false, "zero": false}, "axis": null},
    "y": {"field": "y", "type": "quantitative", "scale": {"domain": [0, 850], "nice": false, "zero": false}, "axis": null}}},
  {"data": {"name": "obs"}, "transform": [{"filter": "datum.mix === 'C'"}],
   "mark": {"type": "square", "size": 30, "color": "#000", "opacity": 1},
   "encoding": {"x": {"field": "day", "type": "quantitative", "scale": {"domain": [0, 32.5], "nice": false, "zero": false}, "axis": {"title": "Time (day)", "values": [0, 5, 10, 15, 20, 25, 30], "labelFlush": false, "tickSize": 5, "labelPadding": 2, "titlePadding": 5}},
    "y": {"field": "y", "type": "quantitative", "scale": {"domain": [0, 850], "nice": false, "zero": false}, "axis": {"title": null, "values": [0, 50, 100, 150, 200, 250, 300, 350, 400, 450, 500, 550, 600, 650, 700, 750, 800], "labelExpr": "datum.value % 100 === 0 ? datum.label : ''", "tickSize": {"condition": {"test": "datum.value % 100 === 0", "value": 5}, "value": 3}, "labelPadding": 2}}}}
 ]
},
{
 "width": 290, "height": 215,
 "resolve": {"axis": {"x": "independent", "y": "independent"}},
 "layer": [
  {"data": {"name": "obs"}, "transform": [{"filter": "datum.mix === 'C'"}],
   "mark": {"type": "errorbar", "ticks": {"size": 5}, "thickness": 1, "color": "#333"},
   "encoding": {"x": {"field": "day", "type": "quantitative", "scale": {"domain": [0, 32.5], "nice": false, "zero": false}, "axis": null},
    "y": {"field": "y", "type": "quantitative", "scale": {"domain": [0, 850], "nice": false, "zero": false}, "axis": null},
    "yError": {"field": "err"}}},
  {"data": {"name": "fit"}, "transform": [{"filter": "datum.panel === 'C-GO' && datum.curve === 'pred'"}],
   "mark": {"type": "line", "interpolate": "monotone", "strokeWidth": 2.5, "color": "#FF8A1E", "strokeDash": [9, 7]},
   "encoding": {"x": {"field": "day", "type": "quantitative", "scale": {"domain": [0, 32.5], "nice": false, "zero": false}, "axis": null},
    "y": {"field": "y", "type": "quantitative", "scale": {"domain": [0, 850], "nice": false, "zero": false}, "axis": null}}},
  {"data": {"name": "fit"}, "transform": [{"filter": "datum.panel === 'C-GO' && datum.curve === 'fit'"}],
   "mark": {"type": "line", "interpolate": "monotone", "strokeWidth": 1.5, "color": "#000"},
   "encoding": {"x": {"field": "day", "type": "quantitative", "scale": {"domain": [0, 32.5], "nice": false, "zero": false}, "axis": null},
    "y": {"field": "y", "type": "quantitative", "scale": {"domain": [0, 850], "nice": false, "zero": false}, "axis": {"orient": "right", "title": "17% TPS- 83% FW", "labels": false, "ticks": false, "domain": false, "grid": false, "titleAngle": 270, "titleBaseline": "top", "titlePadding": 18, "titleFontSize": 14}}}},
  {"data": {"name": "obs"}, "transform": [{"filter": "datum.mix === 'C'"}],
   "mark": {"type": "square", "size": 30, "color": "#000", "opacity": 1},
   "encoding": {"x": {"field": "day", "type": "quantitative", "scale": {"domain": [0, 32.5], "nice": false, "zero": false}, "axis": {"title": "Time (day)", "values": [0, 5, 10, 15, 20, 25, 30], "labelFlush": false, "tickSize": 5, "labelPadding": 2, "titlePadding": 5}},
    "y": {"field": "y", "type": "quantitative", "scale": {"domain": [0, 850], "nice": false, "zero": false}, "axis": {"orient": "left", "title": null, "values": [0, 50, 100, 150, 200, 250, 300, 350, 400, 450, 500, 550, 600, 650, 700, 750, 800], "labelExpr": "datum.value % 100 === 0 ? datum.label : ''", "tickSize": {"condition": {"test": "datum.value % 100 === 0", "value": 5}, "value": 3}, "labelPadding": 2}}}}
 ]
}
]
}
